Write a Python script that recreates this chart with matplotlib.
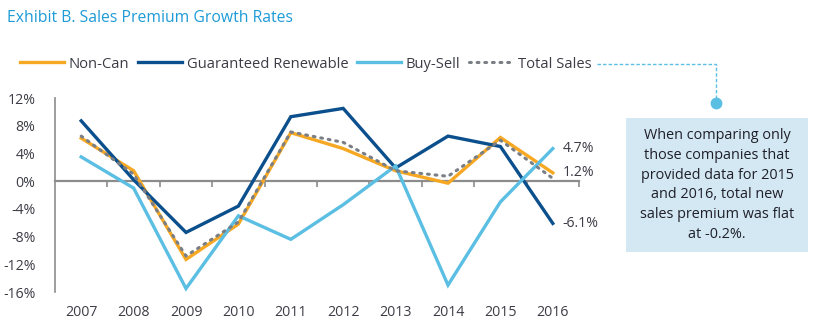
import matplotlib
matplotlib.use("Agg")
import matplotlib.pyplot as plt
from matplotlib.lines import Line2D
from matplotlib.patches import Rectangle
import numpy as np

plt.rcParams['font.family'] = ['Open Sans', 'DejaVu Sans']

years = ['2007', '2008', '2009', '2010', '2011', '2012', '2013', '2014', '2015', '2016']
non_can = [6.2, 1.5, -11.3, -6.2, 7.0, 4.7, 1.5, -0.3, 6.3, 1.2]
guaranteed_renewable = [8.7, 0.2, -7.4, -3.6, 9.3, 10.5, 1.9, 6.5, 5.0, -6.1]
buy_sell = [3.5, -1.0, -15.5, -5.0, -8.4, -3.4, 2.2, -15.0, -3.0, 4.7]
total_sales = [6.5, 1.0, -10.8, -5.9, 7.1, 5.6, 1.5, 0.7, 5.9, 0.4]
y_ticks = [12, 8, 4, 0, -4, -8, -12, -16]

c_orange = '#F7A823'
c_navy = '#0B4F8C'
c_sky = '#5BBEE3'
c_grey = '#7A7F85'
c_text = '#3C3C46'
c_title = '#1E9BD7'
c_note = '#D3E8F2'

W, H = 822, 330
fig = plt.figure(figsize=(W / 100, H / 100), dpi=100)
ax = fig.add_axes([55 / W, 1 - 292 / H, (579 - 55) / W, (292 - 98) / H])

x = np.arange(len(years))
lw = 2.4
ax.plot(x, non_can, color=c_orange, lw=lw, solid_joinstyle='miter', zorder=3)
ax.plot(x, guaranteed_renewable, color=c_navy, lw=lw, solid_joinstyle='miter', zorder=4)
ax.plot(x, buy_sell, color=c_sky, lw=lw, solid_joinstyle='miter', zorder=5)
ax.plot(x, total_sales, color=c_grey, lw=2.2, linestyle=(0, (0.6, 1.9)),
        dash_capstyle='round', zorder=6)

ax.set_xlim(-0.5, len(years) - 0.5)
ax.set_ylim(-16, 12)

# y axis: labels only, small caps at the two ends
ax.set_yticks(y_ticks)
ax.set_yticklabels([f'{v}%' for v in y_ticks])
ax.tick_params(axis='y', length=0, pad=14, labelsize=10.2, labelcolor=c_text)
ax.set_yticks([y_ticks[0], y_ticks[-1]], minor=True)
ax.tick_params(axis='y', which='minor', length=4, width=1, color='#8C8C8C')
ax.spines['left'].set_color('#8C8C8C')
ax.spines['left'].set_linewidth(1.2)

# x axis line sits at zero, with ticks between categories
for s in ['top', 'right']:
    ax.spines[s].set_visible(False)
ax.spines['bottom'].set_position(('data', 0))
ax.spines['bottom'].set_color('#8C8C8C')
ax.spines['bottom'].set_linewidth(1.6)
ax.set_xticks(x)
ax.set_xticklabels([])
ax.tick_params(axis='x', which='major', length=0)
ax.set_xticks(np.arange(0.5, len(years)), minor=True)
ax.tick_params(axis='x', which='minor', length=4, width=1.2, color='#8C8C8C', direction='out')

sec = ax.secondary_xaxis(0)
sec.set_xticks(x)
sec.set_xticklabels(years)
sec.tick_params(length=0, pad=9, labelsize=10.2, labelcolor=c_text)
sec.spines['bottom'].set_visible(False)

# end-of-line value labels
for series in (buy_sell, non_can, guaranteed_renewable):
    v = series[-1]
    ax.annotate(f'{v:.1f}%', xy=(x[-1], v), xytext=(7, 0), textcoords='offset points',
                va='center', ha='left', fontsize=10.2, color=c_text, annotation_clip=False)

# title
fig.text(7 / W, 1 - 18 / H, 'Exhibit B. Sales Premium Growth Rates', color=c_title,
         fontsize=11.3, va='center', ha='left')

# legend
handles = [
    Line2D([], [], color=c_orange, lw=lw),
    Line2D([], [], color=c_navy, lw=lw),
    Line2D([], [], color=c_sky, lw=lw),
    Line2D([], [], color=c_grey, lw=2.2, linestyle=(0, (0.6, 1.9)), dash_capstyle='round'),
]
labels = ['Non-Can', 'Guaranteed Renewable', 'Buy-Sell', 'Total Sales']
leg = fig.legend(handles, labels, loc='center left', bbox_to_anchor=(20 / W, 1 - 64 / H),
                 ncol=4, frameon=False, fontsize=10.6, handlelength=3.0,
                 handletextpad=0.3, columnspacing=0.6, borderaxespad=0, borderpad=0)
for t in leg.get_texts():
    t.set_color(c_text)

# callout from the legend to the note
fig.add_artist(Line2D([597 / W, 716 / W, 716 / W], [1 - 64 / H, 1 - 64 / H, 1 - 103 / H],
                      transform=fig.transFigure, color=c_sky, lw=1.0, linestyle=(0, (2.5, 1.5))))
fig.add_artist(Line2D([716 / W], [1 - 103 / H], transform=fig.transFigure, marker='o',
                      markersize=7.5, color=c_sky, linestyle='none', zorder=5))
fig.patches.append(Rectangle((626 / W, 1 - 252 / H), (808 - 626) / W, (252 - 118) / H,
                             transform=fig.transFigure, facecolor=c_note, edgecolor='none'))
fig.text(717 / W, 1 - 185 / H,
         'When comparing only\nthose companies that\nprovided data for 2015\n'
         'and 2016, total new\nsales premium was flat\nat -0.2%.',
         ha='center', va='center', fontsize=10.4, color='#1F1F2A', linespacing=1.42)

fig.savefig('out.png', dpi=100)
